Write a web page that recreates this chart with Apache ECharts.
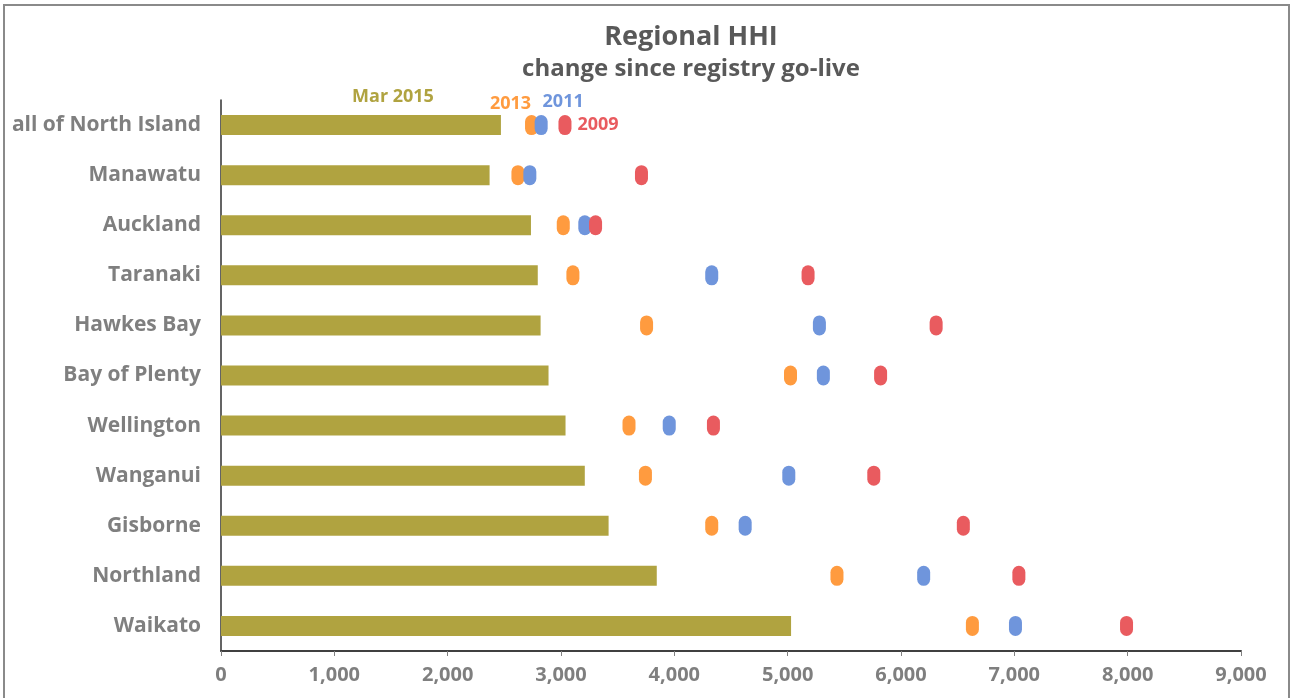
<!DOCTYPE html>
<html>
<head>
<meta charset="utf-8">
<script src="https://cdn.jsdelivr.net/npm/echarts@6/dist/echarts.min.js"></script>
<style>
html,body{margin:0;padding:0;background:#fff;}
#chart{width:1290px;height:698px;}
</style>
</head>
<body>
<div id="chart"></div>
<script>
const categories = ['all of North Island','Manawatu','Auckland','Taranaki','Hawkes Bay','Bay of Plenty','Wellington','Wanganui','Gisborne','Northland','Waikato'];
const mar2015 = [2470,2370,2735,2795,2820,2890,3040,3210,3420,3845,5030];
const y2013 = [2740,2620,3020,3105,3755,5025,3600,3745,4330,5435,6630];
const y2011 = [2825,2725,3210,4330,5280,5315,3955,5010,4625,6200,7010];
const y2009 = [3035,3710,3305,5180,6310,5820,4345,5760,6550,7040,7990];
const xTicks = [0,1000,2000,3000,4000,5000,6000,7000,8000,9000];

const FONT = '"Open Sans", "DejaVu Sans", sans-serif';
const C_BAR = '#B0A340', C13 = '#FF9B3F', C11 = '#6F95DC', C09 = '#E95B5F';
const pill = 'path://M0,6.5 A6.5,6.5 0 0 1 13,6.5 L13,13.5 A6.5,6.5 0 0 1 0,13.5 Z';

function withFirstLabel(values, label) {
  return values.map((v, i) => i === 0 ? { value: v, label: label } : v);
}

const chart = echarts.init(document.getElementById('chart'));
chart.setOption({
  animation: false,
  backgroundColor: '#fff',
  title: {
    text: 'Regional HHI',
    subtext: 'change since registry go-live',
    left: 686, top: 19, textAlign: 'center', itemGap: 6,
    textStyle: { fontFamily: FONT, fontSize: 27, fontWeight: 'bold', color: '#595959' },
    subtextStyle: { fontFamily: FONT, fontSize: 24, fontWeight: 'bold', color: '#595959' }
  },
  graphic: [{
    type: 'rect', shape: { x: 4, y: 5, width: 1285, height: 700 },
    style: { fill: 'none', stroke: '#8a8a8a', lineWidth: 2 }, silent: true
  }],
  grid: { left: 221, right: 49, top: 100, bottom: 47 },
  xAxis: {
    type: 'value', min: 0, max: 9000, interval: 1000,
    axisLine: { show: true, lineStyle: { color: '#404040', width: 2 } },
    axisTick: { show: true, length: 5, lineStyle: { color: '#808080' } },
    splitLine: { show: false },
    axisLabel: {
      fontFamily: FONT, fontSize: 20, fontWeight: 'bold', color: '#7f7f7f', margin: 14,
      formatter: v => xTicks.includes(v) ? v.toLocaleString('en-US') : ''
    }
  },
  yAxis: {
    type: 'category', data: categories, inverse: true,
    axisLine: { show: true, lineStyle: { color: '#303030', width: 1.5 } },
    axisTick: { show: false },
    axisLabel: { fontFamily: FONT, fontSize: 21, fontWeight: 'bold', color: '#7f7f7f', margin: 20 }
  },
  series: [
    {
      name: 'Mar 2015', type: 'bar', barWidth: 20, itemStyle: { color: C_BAR },
      data: withFirstLabel(mar2015, {
        show: true, position: 'top', offset: [32, -4], formatter: 'Mar 2015',
        fontFamily: FONT, fontSize: 18, fontWeight: 'bold', color: C_BAR
      }),
      z: 2
    },
    {
      name: '2013', type: 'scatter', symbol: pill, symbolSize: [13, 20], itemStyle: { color: C13, opacity: 1 },
      data: withFirstLabel(y2013, {
        show: true, position: 'top', offset: [-21, 3], formatter: '2013',
        fontFamily: FONT, fontSize: 18, fontWeight: 'bold', color: C13
      }),
      z: 3
    },
    {
      name: '2011', type: 'scatter', symbol: pill, symbolSize: [13, 20], itemStyle: { color: C11, opacity: 1 },
      data: withFirstLabel(y2011, {
        show: true, position: 'top', offset: [22, 1], formatter: '2011',
        fontFamily: FONT, fontSize: 18, fontWeight: 'bold', color: C11
      }),
      z: 4
    },
    {
      name: '2009', type: 'scatter', symbol: pill, symbolSize: [13, 20], itemStyle: { color: C09, opacity: 1 },
      data: withFirstLabel(y2009, {
        show: true, position: 'right', distance: 6, formatter: '2009',
        fontFamily: FONT, fontSize: 18, fontWeight: 'bold', color: C09
      }),
      z: 5
    }
  ]
});
</script>
</body>
</html>
